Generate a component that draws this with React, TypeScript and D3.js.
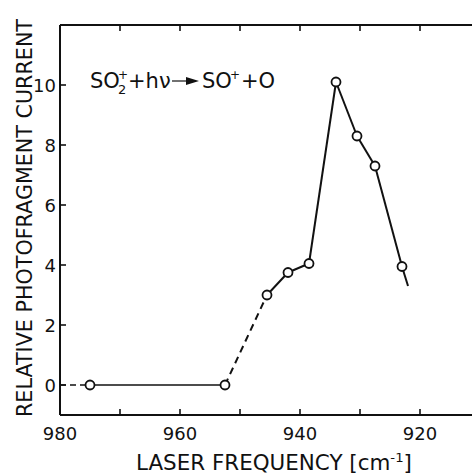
import React from "react";
import * as d3 from "d3";

const width = 472;
const height = 476;

// measured points (laser frequency in cm-1, relative photofragment current)
const freq = [975, 952.5, 945.5, 942, 938.5, 934, 930.5, 927.5, 923];
const current = [0, 0, 3.0, 3.75, 4.05, 10.1, 8.3, 7.3, 3.95];
// style of the segment joining point i to point i+1
const segStyle = ["solid", "dashed", "solid", "solid", "solid", "solid", "solid", "solid"];
// dashed lead-in from the axis and short solid tail after the last point
const leadFreq = [980, 975];
const leadCurrent = [0, 0];
const tailFreq = [923, 922];
const tailCurrent = [3.95, 3.3];

const xMajor = [980, 960, 940, 920];
const xMinor = [970, 950, 930, 910];
const yMajor = [0, 2, 4, 6, 8, 10];

const x = d3.scaleLinear().domain([980, 910]).range([60, 480]);
const y = d3.scaleLinear().domain([-1, 12]).range([415, 25]);

const font = "'DejaVu Sans', sans-serif";

const line = d3
  .line<[number, number]>()
  .x(d => x(d[0]))
  .y(d => y(d[1]));

const App = () => {
  const pts: [number, number][] = freq.map((f, i) => [f, current[i]]);
  const lead: [number, number][] = leadFreq.map((f, i) => [f, leadCurrent[i]]);
  const tail: [number, number][] = tailFreq.map((f, i) => [f, tailCurrent[i]]);
  const tick = 6;

  return (
    <svg
      width={width}
      height={height}
      style={{ position: "absolute", left: 0, top: 0, background: "#fff" }}
    >
      {/* frame */}
      <g stroke="#111" strokeWidth={2} fill="none">
        <line x1={x(980)} x2={x(980)} y1={y(12)} y2={y(-1)} />
        <line x1={x(980)} x2={width} y1={y(-1)} y2={y(-1)} />
        <line x1={x(980)} x2={width} y1={y(12)} y2={y(12)} />
      </g>
      {/* x ticks, bottom and top; y ticks inward */}
      <g stroke="#111" strokeWidth={1.6}>
        {xMajor.concat(xMinor).map(v => (
          <g key={v}>
            <line x1={x(v)} x2={x(v)} y1={y(-1)} y2={y(-1) - tick} />
            <line x1={x(v)} x2={x(v)} y1={y(12)} y2={y(12) + tick} />
          </g>
        ))}
        {yMajor.map(v => (
          <line key={v} x1={x(980)} x2={x(980) + tick} y1={y(v)} y2={y(v)} />
        ))}
      </g>
      <g fontFamily={font} fontSize={18} fill="#111">
        {xMajor.map(v => (
          <text key={v} x={x(v)} y={440} textAnchor="middle">
            {v}
          </text>
        ))}
        {yMajor.map(v => (
          <text key={v} x={56} y={y(v) + 6.5} textAnchor="end">
            {v}
          </text>
        ))}
      </g>

      {/* data */}
      <path d={line(lead) || ""} fill="none" stroke="#111" strokeWidth={1.5} strokeDasharray="6,4" />
      {segStyle.map((s, i) => (
        <path
          key={i}
          d={line([pts[i], pts[i + 1]]) || ""}
          fill="none"
          stroke="#111"
          strokeWidth={i === 0 ? 1.4 : 2}
          strokeDasharray={s === "dashed" ? "7,5" : undefined}
        />
      ))}
      <path d={line(tail) || ""} fill="none" stroke="#111" strokeWidth={2} />
      {pts.map((p, i) => (
        <circle key={i} cx={x(p[0])} cy={y(p[1])} r={4.5} fill="#fff" stroke="#111" strokeWidth={1.8} />
      ))}

      {/* reaction annotation */}
      <g fontFamily={font} fontSize={21} fill="#111">
        <text x={90} y={88}>SO</text>
        <text x={118} y={79} fontSize={12}>+</text>
        <text x={118} y={94} fontSize={13}>2</text>
        <text x={128} y={88}>+hν</text>
        <line x1={172} x2={192} y1={81} y2={81} stroke="#111" strokeWidth={1.2} />
        <path d="M186,77 L199,81 L186,85 Z" fill="#111" />
        <text x={202} y={88}>SO</text>
        <text x={230} y={79} fontSize={12}>+</text>
        <text x={241} y={88}>+O</text>
      </g>

      {/* axis titles */}
      <text
        transform="translate(32,218) rotate(-90)"
        textAnchor="middle"
        fontFamily={font}
        fontSize={21}
        textLength={398}
        lengthAdjust="spacingAndGlyphs"
        fill="#111"
      >
        RELATIVE PHOTOFRAGMENT CURRENT
      </text>
      <text
        x={274}
        y={470}
        textAnchor="middle"
        fontFamily={font}
        fontSize={21}
        textLength={276}
        lengthAdjust="spacingAndGlyphs"
        fill="#111"
      >
        LASER FREQUENCY [cm
        <tspan fontSize={13} dy={-8}>-1</tspan>
        <tspan dy={8}>]</tspan>
      </text>
    </svg>
  );
};

export default App;
